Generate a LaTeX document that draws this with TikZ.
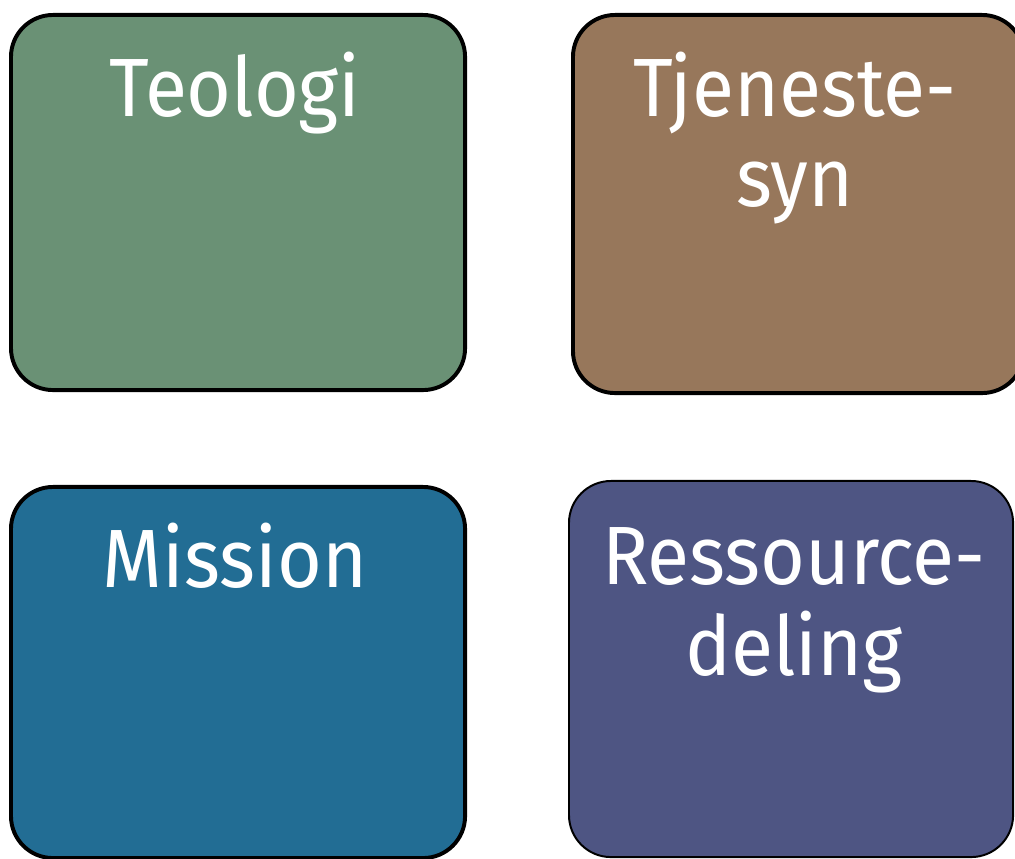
\documentclass[tikz,border=0pt]{standalone}
\usepackage{fontspec}
\setmainfont{Fira Sans}[FakeStretch=0.93]
\usetikzlibrary{positioning}

\definecolor{teogreen}{HTML}{6A9175}
\definecolor{tjebrown}{HTML}{97775B}
\definecolor{misblue}{HTML}{226D94}
\definecolor{resblue}{HTML}{4E5583}

\tikzset{
  card/.style={draw=black,line width=2.8pt,rounded corners=1.05cm,
    anchor=north west,inner sep=0pt},
  title/.style={text=white,align=center,anchor=base,inner sep=0pt,
    font=\fontsize{58.8}{64.7}\selectfont}
}

\begin{document}
\begin{tikzpicture}[x=0.025cm,y=-0.025cm]
   \useasboundingbox (0,0) rectangle (1015,859);
   \node[card,fill=teogreen,minimum width=11.35cm,minimum height=9.375cm] (teologi box) at (9,13) {};
   \node[card,fill=tjebrown,minimum width=11.275cm,minimum height=9.45cm] (tjeneste box) at (571,13) {};
   \node[card,fill=misblue,minimum width=11.35cm,minimum height=9.275cm] (mission box) at (9,485) {};
   \node[card,fill=resblue,line width=1.4pt,minimum width=11.1cm,minimum height=9.4cm] (ressource box) at (568,480) {};
   % titles (base = last line)
   \node[title] (teologi) at (235,117) {Teologi};
   \node[title] (tjeneste) at (795,207) {Tjeneste-\\syn};
   \node[title] (mission) at (235,588) {Mission};
   \node[title] (ressource) at (794,675) {Ressource-\\deling};
\end{tikzpicture}
\end{document}
